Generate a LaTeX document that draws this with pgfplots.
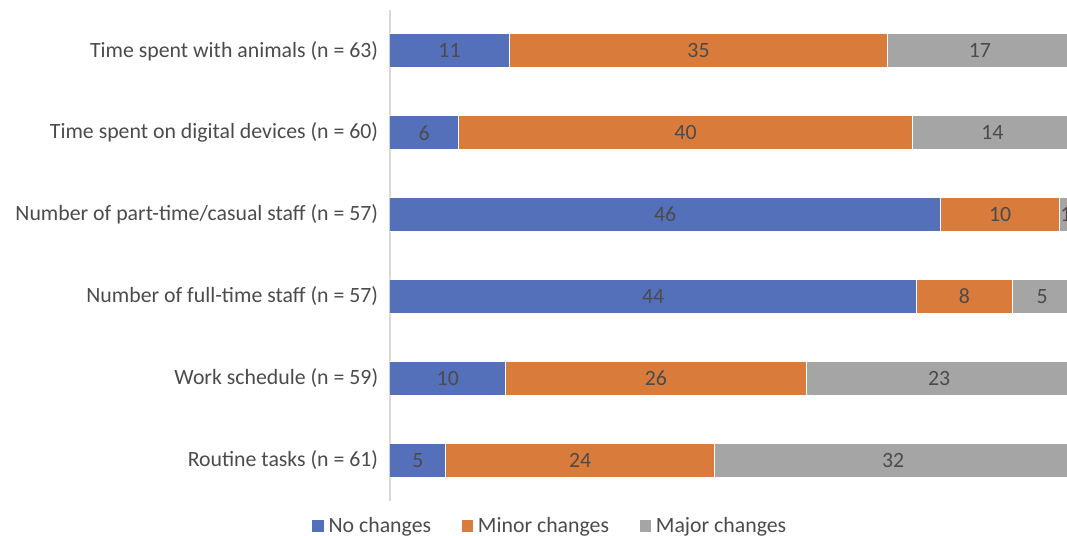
\documentclass[border=0pt]{standalone}
\usepackage{fontspec}
\setmainfont{Carlito}
\usepackage{pgfplots}
\usepackage{pgfplotstable}
\pgfplotsset{compat=1.18}
\definecolor{cblue}{RGB}{84,112,186}
\definecolor{corange}{RGB}{217,123,59}
\definecolor{cgray}{RGB}{165,165,165}
\definecolor{ctext}{RGB}{75,75,75}
\definecolor{caxis}{RGB}{217,217,217}

\pgfplotstableread{
y p c
0 8.20 5
1 16.95 10
2 77.19 44
3 80.70 46
4 10.00 6
5 17.46 11
}\nochg
\pgfplotstableread{
y p c
0 39.34 24
1 44.07 26
2 14.04 8
3 17.54 10
4 66.67 40
5 55.56 35
}\minorchg
\pgfplotstableread{
y p c
0 52.46 32
1 38.98 23
2 8.77 5
3 1.75 1
4 23.33 14
5 26.98 17
}\majorchg

\begin{document}
\begin{tikzpicture}
\path[use as bounding box] (-195pt,-17.5pt) rectangle (338.5pt,250.5pt);
\clip (-195pt,-17.5pt) rectangle (338.5pt,250.5pt);
\begin{axis}[
  at={(0pt,0pt)}, anchor=south west,
  scale only axis,
  width=341pt, height=245.5pt,
  xbar stacked,
  bar width=17pt,
  xmin=0, xmax=100,
  ymin=-0.5, ymax=5.5,
  axis x line=none,
  axis y line*=left,
  y axis line style={draw=caxis, line width=0.6pt, -},
  ytick={0,1,2,3,4,5},
  yticklabels={Routine tasks (n = 61), Work schedule (n = 59), Number of full-time staff (n = 57), Number of part-time/casual staff (n = 57), Time spent on digital devices (n = 60), Time spent with animals (n = 63)},
  major tick length=0pt,
  yticklabel style={font=\fontsize{10.9}{13}\selectfont, text=ctext, xshift=-2.4pt},
  point meta=explicit,
  nodes near coords={\pgfmathprintnumber[assume math mode=true]{\pgfplotspointmeta}},
  every node near coord/.append style={anchor=center, font=\fontsize{10.9}{13}\selectfont, text=ctext},
  legend columns=3,
  legend style={at={(0.237,-0.051)}, anchor=center, draw=none, fill=none,
    font=\fontsize{10.9}{13}\selectfont, text=ctext,
    /tikz/every even column/.append style={column sep=13pt},
    nodes={inner sep=2.3pt}},
  legend image code/.code={\fill[#1, draw=none] (0pt,-2.9pt) rectangle (5.8pt,2.9pt);},
]
\addplot[fill=cblue, draw=white, line width=0.5pt] table[x=p, y=y, meta=c] \nochg;
\addplot[fill=corange, draw=white, line width=0.5pt] table[x=p, y=y, meta=c] \minorchg;
\addplot[fill=cgray, draw=white, line width=0.5pt] table[x=p, y=y, meta=c] \majorchg;
\legend{No changes, Minor changes, Major changes}
\end{axis}
\end{tikzpicture}
\end{document}
